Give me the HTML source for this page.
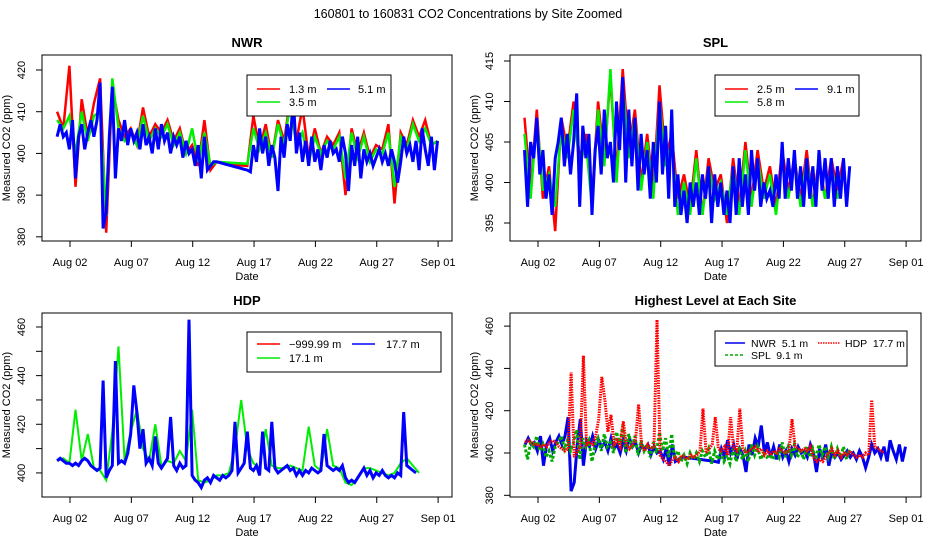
<!DOCTYPE html>
<html><head><meta charset="utf-8">
<style>
html,body{margin:0;padding:0;background:#fff;}
svg{display:block;font-family:"Liberation Sans",sans-serif;}
</style></head>
<body>
<svg id="chart" width="936" height="540" viewBox="0 0 936 540" xmlns="http://www.w3.org/2000/svg">
<rect x="0" y="0" width="936" height="540" fill="#fff"/>
<text x="468" y="18" text-anchor="middle" font-size="12.5">160801  to  160831 CO2 Concentrations by Site Zoomed</text>
</svg>
<script>
// ---- data (days, Aug 02 = 2) ----
const xTickDays = [2, 7, 12, 17, 22, 27, 32];
const xTickLabels = ["Aug 02", "Aug 07", "Aug 12", "Aug 17", "Aug 22", "Aug 27", "Sep 01"];

const nwrTicks = [380, 390, 400, 410, 420];
const splTicks = [395, 400, 405, 410, 415];
const hdpTicks = [400, 410, 420, 430, 440, 450, 460];
const hdpTickLabels = ["400", "", "420", "", "440", "", "460"];
const allTicks = [380, 400, 420, 440, 460];

// NWR 5.1 m (step 0.25 day from day 0.95)
const nwr51 = [404,407,404,405, 401,408,394,404, 407,401,405,408, 404,408,417,382, 386,404,416,394,
 406,403,408,402, 406,403,405,401, 407,402,404,400, 406,401,407,403, 405,400,404,402, 404,399,403,400,
 401,397,402,394, 404,396,397,398, 398,397.8,397.6,397.4, 397.2,397,396.8,396.6, 396.4,396.2,396,395.6,
 402,398,406,400, 404,397,402,399, 391,404,399,407, 403,413,400,405, 398,403,397,404, 398,401,396,402,
 399,403,400,401, 398,404,400,391, 402,397,404,394, 401,398,400,397, 399,401,398,400, 397,401,398,393,
 398,404,400,402, 398,403,396,406, 401,397,404,396, 403];
// NWR 1.3 m (step 0.5 day from day 0.95)
const nwr13 = [410,406,421,392,413,404,412,418,381,416,408,404,406,402,411,404,407,405,408,403,406,400,402,397,408,396,
 398,397.6,397.4,397.2,397.1,397,409,401,407,399,408,403,413,403,411,399,406,400,404,402,405,390,406,400,405,399,402,401,407,388,405,402,408,404,408,402,403];
// NWR 3.5 m (step 0.5 day from day 0.95)
const nwr35 = [408,406,409,400,410,403,409,410,385,418,406,403,405,402,409,403,406,404,407,402,405,400,406,398,405,397,
 398,397.9,397.8,397.7,397.6,397.5,406,401,405,399,407,402,412,402,405,398,404,400,403,401,404,394,405,399,404,398,401,400,405,392,404,401,407,403,406,402,403];

// SPL 9.1 m (step 0.25 from day 0.9)
const spl91 = [404,397,405,403, 408,401,404,398, 401,396,403,405, 408,402,406,401, 405,411,397,407,
 403,406,396,404, 407,401,409,403, 405,400,410,404, 413,400,409,402, 408,399,406,401, 404,398,405,400,
 410,401,407,398, 409,397,401,396, 399,395,400,397, 400,396,401,398, 402,395,401,397, 400,396,399,395,
 402,396,403,397, 401,396,404,399, 403,397,400,398, 399,397,401,398, 405,398,403,399, 404,398,402,397,
 403,398,402,397, 404,399,403,398, 403,397,402,398, 403,397,402];
// SPL 2.5 m (step 0.5 from day 0.9)
const spl25 = [408,399,409,398,402,394,408,404,410,403,406,398,410,403,413,401,414,404,409,400,406,399,412,403,406,398,401,397,404,396,403,399,401,395,403,397,405,398,404,399,402,397,404,399,403,398,404,397,403,398,403,399,403];
// SPL 5.8 m (step 0.5 from day 0.9)
const spl58 = [406,398,408,399,401,397,407,403,409,402,405,397,409,402,414,400,412,403,408,399,405,398,410,402,405,396,400,396,403,396,402,398,400,396,402,396,404,397,403,398,401,396,403,398,403,397,403,397,402,398,402,398,402];

// HDP 17.7 m (step 0.25 from day 0.95)
const hdp177 = [405,406,405,404, 404,403,404,403, 405,406,405,403, 402,401,402,438, 398,401,403,446,
 404,405,404,408, 416,436,425,410, 418,404,406,403, 415,404,402,404, 406,423,403,401, 404,402,403,463,
 399,397,396,394, 397,398,396,399, 398,397,399,398, 399,401,421,400, 402,404,417,402, 401,403,399,417,
 402,401,421,402, 400,401,402,403, 401,402,399,401, 399,401,400,402, 401,400,401,416, 403,402,401,402,
 401,403,398,396, 397,396,398,400, 402,399,401,398, 400,399,401,399, 398,399,398,400, 399,425,403,402,
 401,400];
// HDP 17.1 m (step 0.5 from day 0.95)
const hdp171 = [405,406,404,426,405,416,402,401,397,417,452,405,417,426,410,405,420,403,405,404,409,405,426,397,396,397,399,399,400,410,430,410,404,402,418,403,402,402,403,402,401,419,403,401,418,403,402,396,395,398,402,402,401,400,399,400,404,406,403,400];
// HDP -999.99 m (no valid data)
const hdpNeg = [];

const NS = "http://www.w3.org/2000/svg";
const svg = document.getElementById("chart");
function mk(tag, attrs, parent) {
  const e = document.createElementNS(NS, tag);
  for (const k in attrs) e.setAttribute(k, attrs[k]);
  (parent || svg).appendChild(e);
  return e;
}

function makePanel(p) {
  const g = mk("g", {});
  
  
  const xs = d => 70 + (d - 2) * 12.27 + (p.x0 - 42);
  const ys = v => p.y1 - (v - p.vmin) / (p.vmax - p.vmin) * (p.y1 - p.y0);
  p.xs = xs; p.ys = ys; p.g = g;
  const t = mk("text", {x: (p.x0 + p.x1) / 2, y: p.y0 - 8, "text-anchor": "middle", "font-size": 13, "font-weight": "bold"}, g);
  t.textContent = p.title;
  
  
  const box = mk("rect", {x: p.x0, y: p.y0, width: p.x1 - p.x0, height: p.y1 - p.y0, fill: "none", stroke: "#000", "stroke-width": 1}, g);
  
  
  const xa = mk("g", {}, g);
  
  
  mk("line", {x1: xs(xTickDays[0]), x2: xs(xTickDays[xTickDays.length - 1]), y1: p.y1, y2: p.y1, stroke: "#000"}, xa);
  xTickDays.forEach((d, i) => {
    mk("line", {x1: xs(d), x2: xs(d), y1: p.y1, y2: p.y1 + 6, stroke: "#000"}, xa);
    const l = mk("text", {x: xs(d), y: p.y1 + 25, "text-anchor": "middle", "font-size": 11}, xa);
    l.textContent = xTickLabels[i];
    
    
  });
  const xt = mk("text", {x: (p.x0 + p.x1) / 2, y: p.y1 + 39, "text-anchor": "middle", "font-size": 11}, g);
  xt.textContent = "Date";
  
  
  const ya = mk("g", {}, g);
  
  
  mk("line", {x1: p.x0, x2: p.x0, y1: ys(p.ticks[0]), y2: ys(p.ticks[p.ticks.length - 1]), stroke: "#000"}, ya);
  p.ticks.forEach((v, i) => {
    mk("line", {x1: p.x0 - 6, x2: p.x0, y1: ys(v), y2: ys(v), stroke: "#000"}, ya);
    const lab = p.tickLabels ? p.tickLabels[i] : String(v);
    if (lab) {
      const tx = p.x0 - 17, ty = ys(v);
      const l = mk("text", {x: tx, y: ty, "text-anchor": "middle", "font-size": 11, transform: `rotate(-90 ${tx} ${ty})`}, ya);
      l.textContent = lab;
      
      
    }
  });
  const yx = p.x0 - 32, yy = (p.y0 + p.y1) / 2;
  const yt = mk("text", {x: yx, y: yy, "text-anchor": "middle", "font-size": 11, transform: `rotate(-90 ${yx} ${yy})`}, g);
  yt.textContent = "Measured CO2 (ppm)";
  
  
  return p;
}

function drawSeries(p, values, start, step, color, name, dash, sw) {
  if (!values.length) return;
  const pts = values.map((v, i) => p.xs(start + i * step).toFixed(1) + "," + p.ys(v).toFixed(1)).join(" ");
  const attrs = {points: pts, fill: "none", stroke: color, "stroke-width": sw || 2.5, "stroke-linejoin": "miter"};
  if (dash) attrs["stroke-dasharray"] = dash;
  const pl = mk("polyline", attrs, p.g);
  
  
}

function legend(p, x, y, w, h, items, fs) {
  const g = mk("g", {}, p.g);
  
  
  mk("rect", {x, y, width: w, height: h, fill: "#fff", stroke: "#000"}, g);
  items.forEach(it => {
    const e = mk("g", {}, g);
    
    
    const a = {x1: it.lx, x2: it.lx + it.lw, y1: it.y, y2: it.y, stroke: it.color, "stroke-width": 1.5};
    if (it.dash) a["stroke-dasharray"] = it.dash;
    mk("line", a, e);
    const t = mk("text", {x: it.tx, y: it.y + 4, "font-size": fs || 11}, e);
    t.setAttribute("style", "white-space:pre");
    t.textContent = it.label;
  });
}

// NWR
const pN = makePanel({name: "nwr", title: "NWR", x0: 42, x1: 452, y0: 55, y1: 241, vmin: 379.0, vmax: 423.6, ticks: nwrTicks});
drawSeries(pN, nwr13, 0.95, 0.5, "#ff0000", "nwr-1.3m-line", null, 2.5);
drawSeries(pN, nwr35, 0.95, 0.5, "#00ee00", "nwr-3.5m-line", null, 2.5);
drawSeries(pN, nwr51, 0.95, 0.25, "#0000ff", "nwr-5.1m-line", null, 3);
legend(pN, 247, 75, 144, 41, [
  {lx: 257, lw: 23, y: 89, tx: 289, color: "#ff0000", label: "1.3 m"},
  {lx: 327, lw: 23, y: 89, tx: 358, color: "#0000ff", label: "5.1 m"},
  {lx: 257, lw: 23, y: 102, tx: 289, color: "#00ee00", label: "3.5 m"}]);

// SPL
const pS = makePanel({name: "spl", title: "SPL", x0: 510, x1: 921, y0: 55, y1: 241, vmin: 392.78, vmax: 415.74, ticks: splTicks});
drawSeries(pS, spl25, 0.9, 0.5, "#ff0000", "spl-2.5m-line", null, 2.5);
drawSeries(pS, spl58, 0.9, 0.5, "#00ee00", "spl-5.8m-line", null, 2.5);
drawSeries(pS, spl91, 0.9, 0.25, "#0000ff", "spl-9.1m-line", null, 3);
legend(pS, 715, 75, 144, 41, [
  {lx: 725, lw: 23, y: 89, tx: 757, color: "#ff0000", label: "2.5 m"},
  {lx: 795, lw: 23, y: 89, tx: 827, color: "#0000ff", label: "9.1 m"},
  {lx: 725, lw: 23, y: 102, tx: 757, color: "#00ee00", label: "5.8 m"}]);

// HDP
const pH = makePanel({name: "hdp", title: "HDP", x0: 42, x1: 452, y0: 313, y1: 497, vmin: 390.1, vmax: 465.75, ticks: hdpTicks, tickLabels: hdpTickLabels});
drawSeries(pH, hdpNeg, 0.95, 0.5, "#ff0000", "hdp-neg999-line");
drawSeries(pH, hdp171, 0.95, 0.5, "#00ee00", "hdp-17.1m-line", null, 2);
drawSeries(pH, hdp177, 0.95, 0.25, "#0000ff", "hdp-17.7m-line", null, 3);
legend(pH, 247, 332, 194, 40, [
  {lx: 257, lw: 23, y: 344, tx: 289, color: "#ff0000", label: "\u2212999.99 m"},
  {lx: 352, lw: 23, y: 344, tx: 386, color: "#0000ff", label: "17.7 m"},
  {lx: 257, lw: 23, y: 358, tx: 289, color: "#00ee00", label: "17.1 m"}]);

// Highest level
const pA = makePanel({name: "highest-level", title: "Highest Level at Each Site", x0: 510, x1: 921, y0: 313, y1: 497, vmin: 379.2, vmax: 466.2, ticks: allTicks});
drawSeries(pA, nwr51, 0.95, 0.25, "#0000ee", "highest-nwr-line", null, 3);
drawSeries(pA, spl91, 0.9, 0.25, "#00aa00", "highest-spl-line", "3,2", 3);
drawSeries(pA, hdp177, 0.95, 0.25, "#ff0000", "highest-hdp-line", "1.5,1", 3);
legend(pA, 715, 331, 192, 35, [
  {lx: 725, lw: 20, y: 343, tx: 751, color: "#0000ee", label: "NWR  5.1 m"},
  {lx: 818, lw: 22, y: 343, tx: 845, color: "#ff0000", label: "HDP  17.7 m", dash: "1.5,1"},
  {lx: 725, lw: 20, y: 355, tx: 751, color: "#00aa00", label: "SPL  9.1 m", dash: "3,2"}], 10.5);
</script>
</body></html>
